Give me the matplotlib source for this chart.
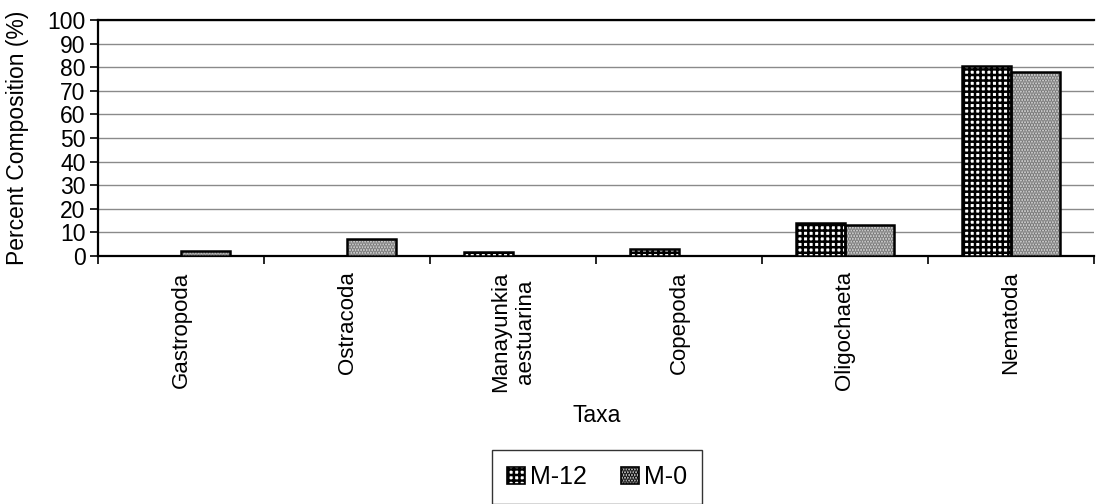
"""Percent composition of benthic taxa at stations M-12 and M-0."""
import matplotlib
matplotlib.use("Agg")
import matplotlib.pyplot as plt
import numpy as np
from matplotlib.patches import Patch

TAXA = ["Gastropoda", "Ostracoda", "Manayunkia\naestuarina", "Copepoda", "Oligochaeta", "Nematoda"]
M12 = [0.0, 0.0, 1.5, 3.0, 14.0, 80.5]
M0 = [2.0, 7.0, 0.0, 0.0, 13.0, 78.0]
Y_TICKS = list(range(0, 101, 10))

plt.rcParams["font.family"] = ["Liberation Sans", "DejaVu Sans"]
plt.rcParams["hatch.linewidth"] = 1.8

fig = plt.figure(figsize=(10.96, 5.04), dpi=100)
ax = fig.add_axes([98 / 1096, 1 - 256 / 504, (1094 - 98) / 1096, (256 - 20) / 504])

x = np.arange(len(TAXA))
width = 0.295

# M-12: black grid on white
ax.bar(x - width / 2, M12, width, color="white", edgecolor="black", hatch="+++", linewidth=0, zorder=3)
ax.bar(x - width / 2, M12, width, fill=False, edgecolor="black", linewidth=1.8, zorder=4)
# M-0: fine grey stipple
ax.bar(x + width / 2, M0, width, color="#dcdcdc", edgecolor="#747474", hatch="......", linewidth=0, zorder=3)
ax.bar(x + width / 2, M0, width, fill=False, edgecolor="black", linewidth=1.8, zorder=4)

ax.set_xlim(-0.5, len(TAXA) - 0.5)
ax.set_ylim(0, 100)
ax.set_yticks(Y_TICKS)
ax.tick_params(axis="y", labelsize=16.5, length=6, width=1.2, direction="out", pad=3)
ax.set_xticks(np.arange(len(TAXA) + 1) - 0.5, minor=False)
ax.set_xticklabels([])
ax.tick_params(axis="x", length=6, width=1.2, direction="out")
ax.set_xticks(x, TAXA, minor=True)
ax.tick_params(axis="x", which="minor", length=0, labelsize=16, pad=11,
               labelrotation=90)
for lbl in ax.get_xticklabels(minor=True):
    lbl.set_linespacing(1.25)

ax.grid(axis="y", color="#8a8a8a", linewidth=1.0, zorder=0)
ax.set_axisbelow(True)
for side in ("left", "bottom", "top"):
    ax.spines[side].set_linewidth(1.6)
ax.spines["right"].set_visible(False)

ax.set_ylabel("Percent Composition (%)", fontsize=16.5, labelpad=13)
fig.text(597 / 1096, 1 - 415 / 504, "Taxa", ha="center", va="center", fontsize=16.5)

handles = [
    Patch(facecolor="white", edgecolor="black", hatch="+++", linewidth=1.2),
    Patch(facecolor="#dcdcdc", edgecolor="black", hatch="......", linewidth=1.2),
]
fig.legend(handles, ["M-12", "M-0"], loc="upper center", bbox_to_anchor=(597 / 1096, 1 - 450 / 504),
           ncol=2, fontsize=18, frameon=True, fancybox=False, edgecolor="black",
           handlelength=0.7, handleheight=0.7, handletextpad=0.2, columnspacing=1.4,
           borderpad=0.6, borderaxespad=0)

fig.savefig("out.png", dpi=100)
